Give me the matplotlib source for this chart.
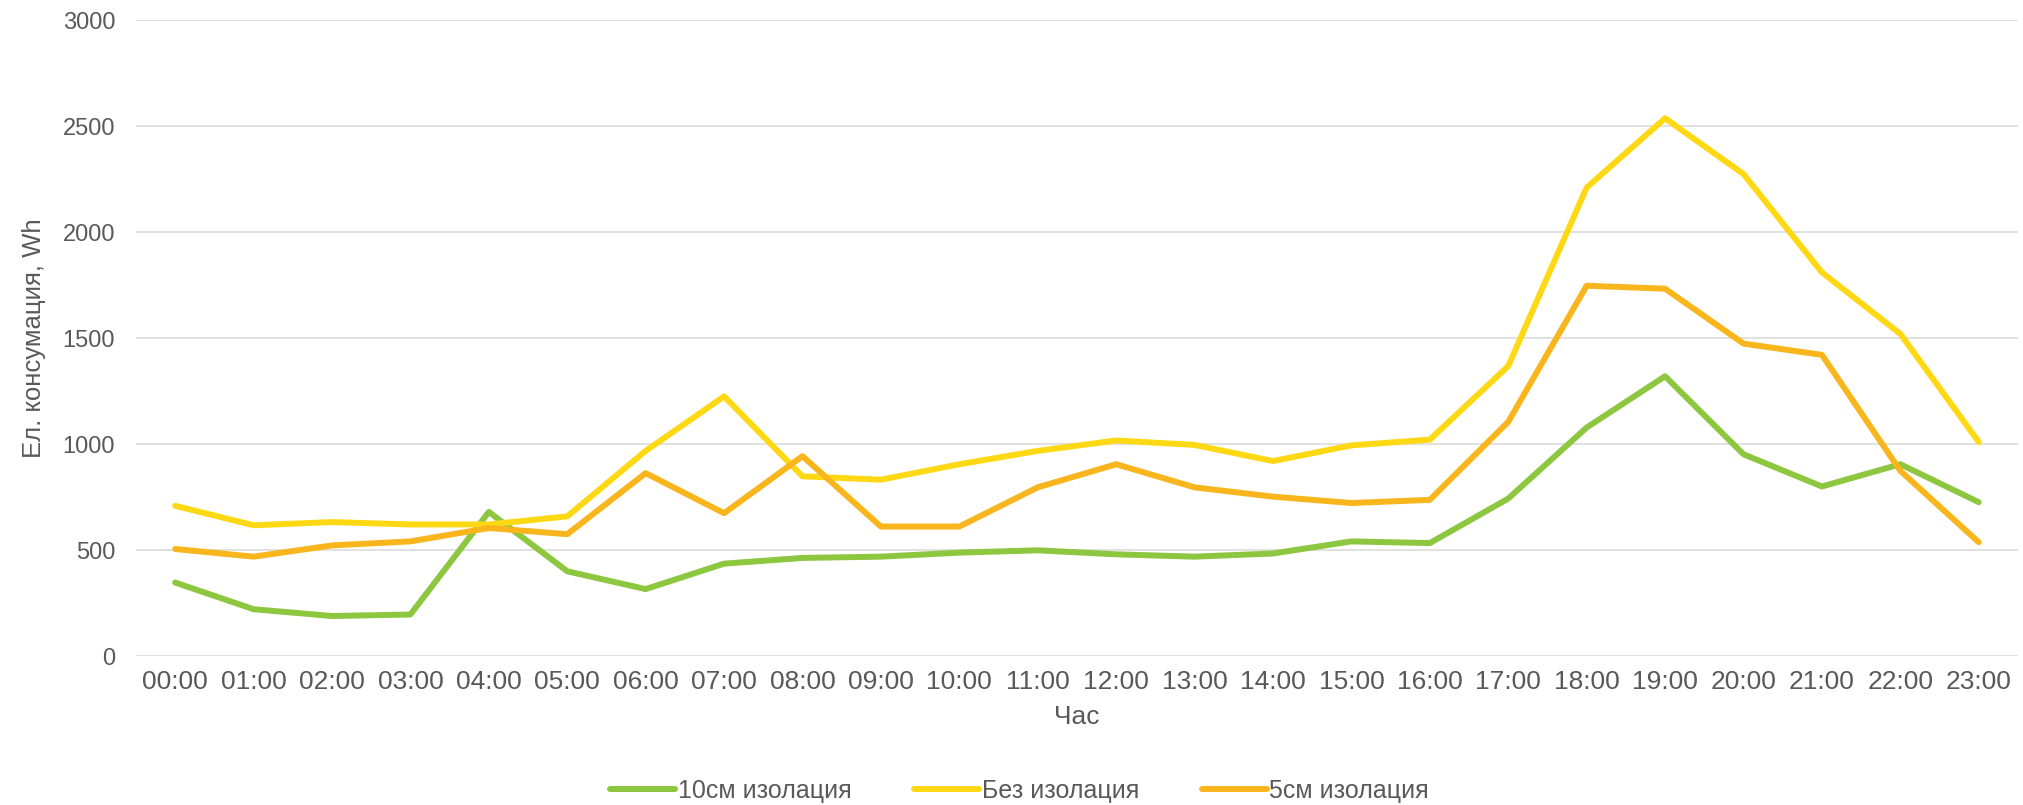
import matplotlib.pyplot as plt

hours = ["%02d:00" % h for h in range(24)]

# Ел. консумация, Wh
izol_10cm = [347, 221, 189, 196, 680, 400, 316, 436, 463, 469, 488, 499,
             480, 469, 484, 541, 533, 743, 1078, 1320, 952, 800, 905, 726]
bez_izol = [709, 617, 632, 621, 621, 659, 968, 1225, 848, 832, 905, 968,
            1017, 996, 920, 994, 1021, 1368, 2210, 2537, 2274, 1810, 1520, 1010]
izol_5cm = [505, 469, 522, 541, 604, 575, 863, 674, 943, 611, 611, 796,
            905, 796, 752, 722, 737, 1105, 1747, 1733, 1474, 1421, 874, 537]

plt.rcParams['font.family'] = ['Liberation Sans', 'DejaVu Sans']
txt = '#595959'

fig = plt.figure(figsize=(20.23, 8.05), dpi=100)
ax = fig.add_axes([0.0672, 0.185, 0.9303, 0.79])

x = range(len(hours))
ax.plot(x, izol_10cm, color='#8DC63F', lw=4.3, label='10см изолация', solid_capstyle='round')
ax.plot(x, bez_izol, color='#FFD814', lw=4.3, label='Без изолация', solid_capstyle='round')
ax.plot(x, izol_5cm, color='#F9B51C', lw=4.3, label='5см изолация', solid_capstyle='round')

ax.set_xlim(-0.5, 23.5)
ax.set_ylim(0, 3000)
ax.set_yticks(range(0, 3001, 500))
ax.set_xticks(list(x))
ax.set_xticklabels(hours)
ax.grid(axis='y', color='#D9D9D9', lw=1.1)
ax.set_axisbelow(True)
for s in ax.spines.values():
    s.set_visible(False)
ax.tick_params(length=0, labelsize=19, colors=txt, pad=10)
ax.tick_params(axis='y', labelsize=17, pad=15)

ax.set_ylabel('Ел. консумация, Wh', fontsize=18.5, color=txt, labelpad=12)
ax.set_xlabel('Час', fontsize=19, color=txt, labelpad=8)

fig.legend(loc='lower center', bbox_to_anchor=(0.504, -0.025), ncol=3, frameon=False,
           fontsize=18, labelcolor=txt, handlelength=2.6, handletextpad=0.1,
           columnspacing=2.5)

fig.savefig('out.png', dpi=100)
